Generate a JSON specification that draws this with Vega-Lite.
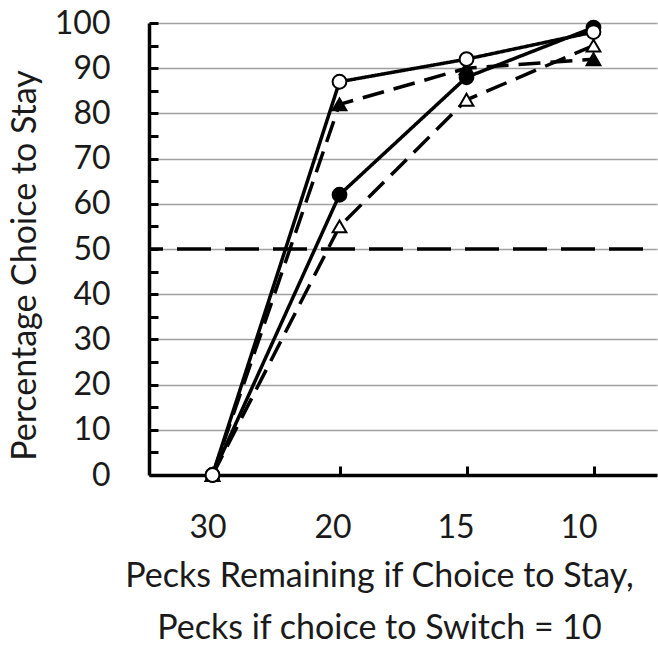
{
  "$schema": "https://vega.github.io/schema/vega-lite/v6.json",
  "autosize": "none",
  "width": 508,
  "height": 452,
  "padding": {"left": 149, "top": 23, "right": 1, "bottom": 172},
  "config": {
    "view": {"stroke": null},
    "font": "Lato",
    "axis": {
      "domainColor": "black",
      "domainWidth": 3.5,
      "tickColor": "black",
      "tickWidth": 3,
      "labelFont": "Lato",
      "titleFont": "Lato",
      "labelColor": "#1a1a1a",
      "titleColor": "#1a1a1a",
      "labelFontWeight": "normal",
      "titleFontWeight": "normal"
    }
  },
  "data": {
    "values": [
      {"pecks": "30", "series": "S4", "pct": 0},
      {"pecks": "20", "series": "S4", "pct": 55},
      {"pecks": "15", "series": "S4", "pct": 83},
      {"pecks": "10", "series": "S4", "pct": 95},
      {"pecks": "30", "series": "S3", "pct": 0},
      {"pecks": "20", "series": "S3", "pct": 82},
      {"pecks": "15", "series": "S3", "pct": 90},
      {"pecks": "10", "series": "S3", "pct": 92},
      {"pecks": "30", "series": "S2", "pct": 0},
      {"pecks": "20", "series": "S2", "pct": 62},
      {"pecks": "15", "series": "S2", "pct": 88},
      {"pecks": "10", "series": "S2", "pct": 99},
      {"pecks": "30", "series": "S1", "pct": 0},
      {"pecks": "20", "series": "S1", "pct": 87},
      {"pecks": "15", "series": "S1", "pct": 92},
      {"pecks": "10", "series": "S1", "pct": 98}
    ]
  },
  "encoding": {
    "x": {
      "field": "pecks",
      "type": "ordinal",
      "sort": ["30", "20", "15", "10"],
      "scale": {"type": "point", "padding": 0.5},
      "axis": {
        "labelAngle": 0,
        "labelFontSize": 32,
        "labelBaseline": "alphabetic",
        "labelPadding": 71,
        "labelOffset": {"condition": [{"test": "datum.value == '30'", "value": -5}, {"test": "datum.value == '20'", "value": -7}, {"test": "datum.value == '15'", "value": -11}], "value": -15},
        "tickSize": -9,
        "grid": false,
        "title": ["Pecks Remaining if Choice to Stay,", "Pecks if choice to Switch = 10"],
        "titleFontSize": 34,
        "titleLineHeight": 52,
        "titleAlign": "center",
        "titleBaseline": "alphabetic",
        "titleX": 230,
        "titleY": 111
      }
    },
    "y": {
      "field": "pct",
      "type": "quantitative",
      "scale": {"domain": [0, 100], "nice": false},
      "axis": {
        "values": [0, 5, 10, 15, 20, 25, 30, 35, 40, 45, 50, 55, 60, 65, 70, 75, 80, 85, 90, 95, 100],
        "labelExpr": "datum.value % 10 === 0 ? datum.label : ''",
        "labelFontSize": 32,
        "labelPadding": 48,
        "labelBaseline": "middle",
        "tickSize": -9,
        "grid": true,
        "gridColor": "#a0a0a0",
        "gridWidth": 1.5,
        "gridOpacity": {"condition": {"test": "datum.value % 10 !== 0", "value": 0}, "value": 1},
        "title": "Percentage Choice to Stay",
        "titleFontSize": 34,
        "titleAlign": "center",
        "titleBaseline": "middle",
        "titleAngle": -90,
        "titleX": -124,
        "titleY": 242
      }
    }
  },
  "layer": [
    {
      "data": {"values": [{"ref": 50}]},
      "mark": {"type": "rule", "color": "black", "strokeWidth": 3.5, "strokeDash": [34, 14], "strokeDashOffset": -14},
      "encoding": {"y": {"field": "ref", "type": "quantitative"}, "x": null}
    },
    {
      "mark": {"type": "line", "color": "black", "strokeWidth": 3.5},
      "encoding": {
        "detail": {"field": "series"},
        "strokeDash": {
          "field": "series",
          "type": "nominal",
          "scale": {"domain": ["S1", "S2", "S3", "S4"], "range": [[1, 0], [1, 0], [22, 10], [22, 10]]},
          "legend": null
        }
      }
    },
    {
      "mark": {"type": "point", "filled": true, "stroke": "black", "strokeWidth": 2, "size": 190, "opacity": 1},
      "encoding": {
        "shape": {
          "field": "series",
          "type": "nominal",
          "scale": {"domain": ["S1", "S2", "S3", "S4"], "range": ["circle", "circle", "triangle-up", "triangle-up"]},
          "legend": null
        },
        "fill": {
          "field": "series",
          "type": "nominal",
          "scale": {"domain": ["S1", "S2", "S3", "S4"], "range": ["white", "black", "black", "white"]},
          "legend": null
        }
      }
    }
  ]
}
